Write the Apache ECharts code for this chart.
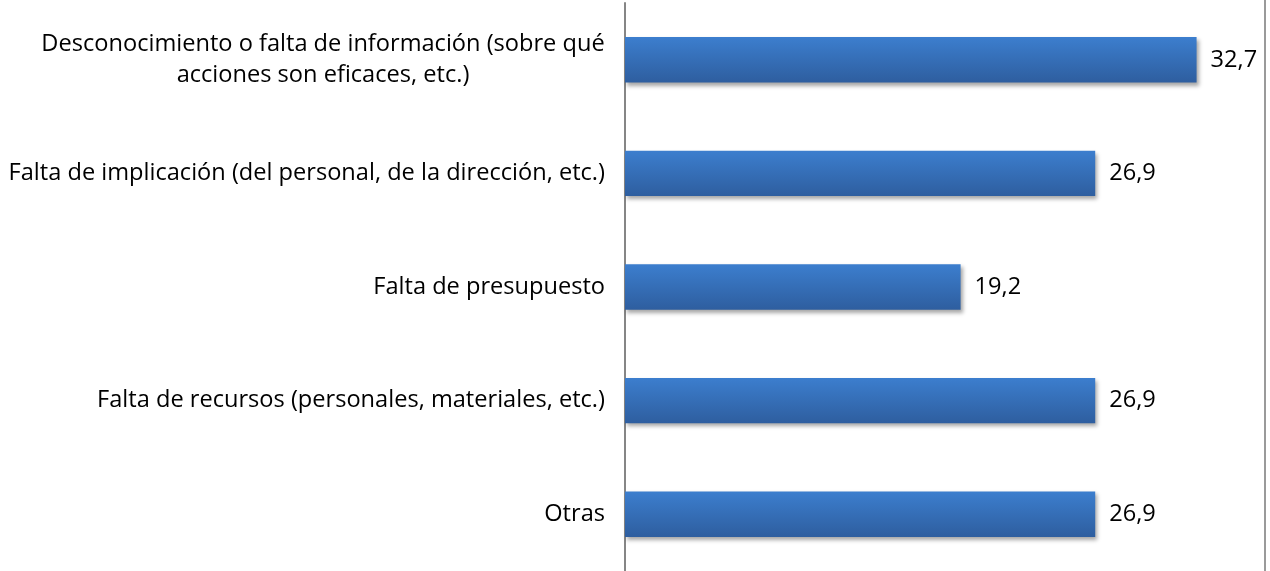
<!DOCTYPE html>
<html>
<head>
<meta charset="utf-8">
<script src="https://cdn.jsdelivr.net/npm/echarts@6/dist/echarts.min.js"></script>
<style>
  html, body { margin: 0; padding: 0; background: #fff; }
  #chart { width: 1270px; height: 571px; }
</style>
</head>
<body>
<div id="chart"></div>
<script>
// categories, top to bottom
const categories = [
  'Desconocimiento o falta de información (sobre qué\nacciones son eficaces, etc.)',
  'Falta de implicación (del personal, de la dirección, etc.)',
  'Falta de presupuesto',
  'Falta de recursos (personales, materiales, etc.)',
  'Otras'
];
const values = [32.7, 26.9, 19.2, 26.9, 26.9];

const FONT = 'Open Sans';
const FONT_SIZE = 23.6;

// width of the longest line of a wrapped label, used to center its lines
function textWidth(s) {
  const ctx = document.createElement('canvas').getContext('2d');
  ctx.font = FONT_SIZE + 'px "' + FONT + '"';
  return Math.ceil(ctx.measureText(s).width);
}

const chart = echarts.init(document.getElementById('chart'));

chart.setOption({
  animation: false,
  grid: { left: 625, top: 3, right: 0, height: 570 },
  xAxis: {
    type: 'value', min: 0, max: 36.9, show: false
  },
  yAxis: {
    type: 'category',
    inverse: true,
    data: categories,
    axisLine: { lineStyle: { color: '#868686', width: 2 } },
    axisTick: { show: false },
    axisLabel: {
      margin: 20,
      color: '#000',
      fontFamily: FONT,
      fontSize: FONT_SIZE,
      lineHeight: 31,
      formatter: function (v) {
        if (v.indexOf('\n') < 0) return v;
        return v.split('\n').map(l => '{c|' + l + '}').join('\n');
      },
      rich: {
        c: {
          width: textWidth(categories[0].split('\n')[0]),
          align: 'center',
          fontFamily: FONT,
          fontSize: FONT_SIZE,
          lineHeight: 31,
          color: '#000'
        }
      }
    }
  },
  series: [{
    type: 'bar',
    data: values,
    barWidth: '40%',
    itemStyle: {
      color: new echarts.graphic.LinearGradient(0, 0, 0, 1, [
        { offset: 0, color: '#3C7ECE' },
        { offset: 1, color: '#2E5E9F' }
      ]),
      shadowColor: 'rgba(0,0,0,0.35)',
      shadowBlur: 4,
      shadowOffsetX: 2,
      shadowOffsetY: 3
    },
    label: {
      show: true,
      position: 'right',
      distance: 14,
      color: '#000',
      fontFamily: FONT,
      fontSize: FONT_SIZE,
      formatter: p => String(p.value).replace('.', ',')
    }
  }],
  graphic: [{
    type: 'line',
    shape: { x1: 1265, y1: 0, x2: 1265, y2: 571 },
    style: { stroke: '#9a9a9a', lineWidth: 2 }
  }]
});
</script>
</body>
</html>
